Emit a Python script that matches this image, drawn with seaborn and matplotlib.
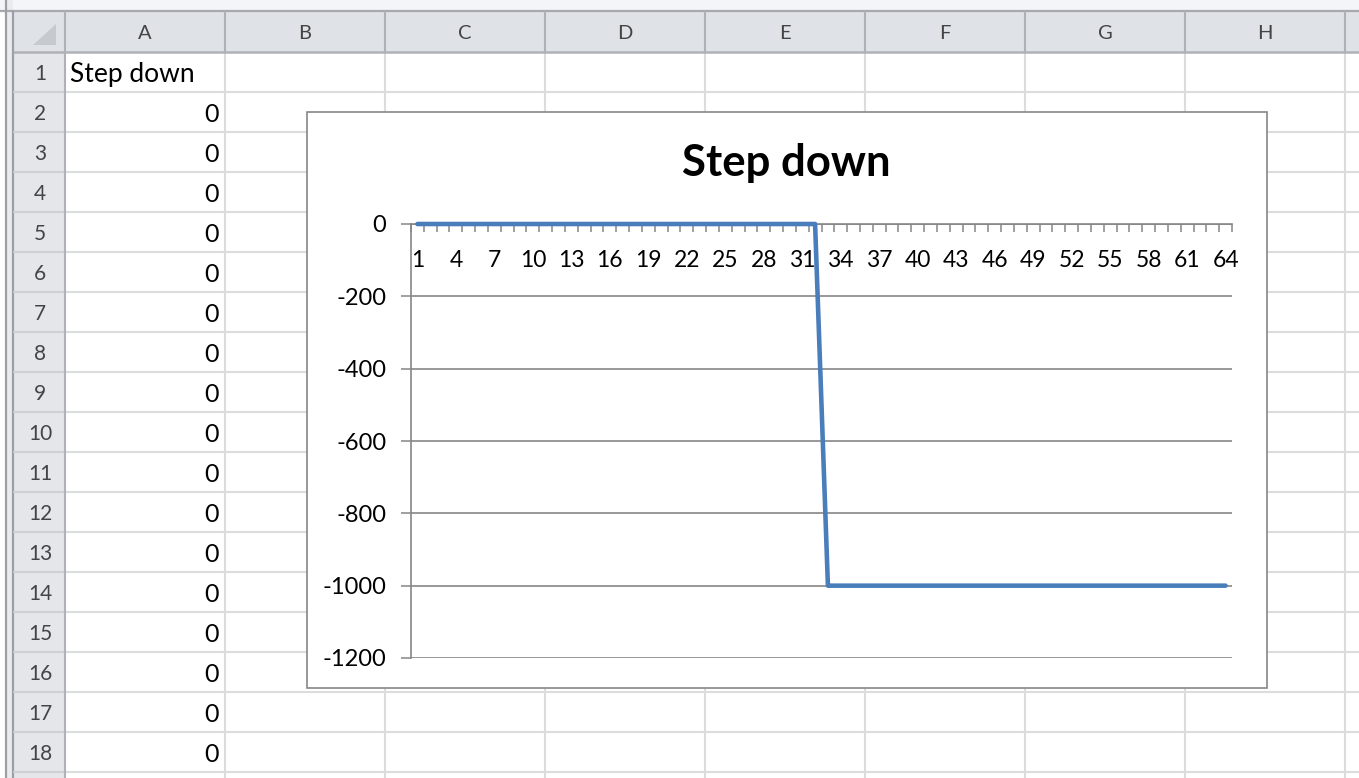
"""
Excel-style "Step down" line chart sitting on top of a worksheet grid
--------------------------------------------------------------------------------
Sheet is drawn in pixel coords on a full-figure axes, chart goes in its own axes.
"""
import numpy  as np
import pandas as pd
import matplotlib.pyplot  as plt
import matplotlib.patches as mpatches
import seaborn            as sns


# ================================================================================
# Data
# ================================================================================
series_name = "Step down"
points      = list(range(1, 65))                 # category axis 1..64
step_values = [
        0,     0,     0,     0,     0,     0,     0,     0,
        0,     0,     0,     0,     0,     0,     0,     0,
        0,     0,     0,     0,     0,     0,     0,     0,
        0,     0,     0,     0,     0,     0,     0,     0,
    -1000, -1000, -1000, -1000, -1000, -1000, -1000, -1000,
    -1000, -1000, -1000, -1000, -1000, -1000, -1000, -1000,
    -1000, -1000, -1000, -1000, -1000, -1000, -1000, -1000,
    -1000, -1000, -1000, -1000, -1000, -1000, -1000, -1000,
]
x_tick_points = points[::3]                      # 1, 4, 7, ..., 64
y_ticks       = [0, -200, -400, -600, -800, -1000, -1200]
col_letters   = ["A", "B", "C", "D", "E", "F", "G", "H"]
row_numbers   = list(range(1, 19))

df = pd.DataFrame({"point": points, "value": step_values})


# ================================================================================
# Style
# ================================================================================
sns.set_theme(style="white")
plt.rcParams["font.family"] = ["Lato", "DejaVu Sans"]

W, H     = 1359, 778
GRID     = "#DADCDD"
HDR_BG   = "#DFE3E8"
HDR_LINE = "#AEB2B8"
AXIS_CLR = "#868686"
BLUE     = "#4A7EBB"

fig = plt.figure(figsize=(W / 100, H / 100), dpi=100)


# ================================================================================
# Worksheet background (pixel coordinates, y going down)
# ================================================================================
sheet = fig.add_axes([0, 0, 1, 1])
sheet.set_xlim(0, W)
sheet.set_ylim(H, 0)
sheet.axis("off")

row_top  = 52
row_h    = 40
col_left = 65
col_w    = 160
col_edges = [col_left + col_w * i for i in range(len(col_letters) + 2)]

# window chrome at the top / left
sheet.add_patch(mpatches.Rectangle((0, 0), W, 11, color="#F3F5F8", lw=0))
sheet.plot([0, W], [11, 11], color="#A5A9AE", lw=1.6)
sheet.add_patch(mpatches.Rectangle((7, 0), 6, H, color="#E9EBEE", lw=0))
sheet.plot([6, 6], [0, H], color="#9C9FA3", lw=1.6)
sheet.plot([13, 13], [11, H], color="#9C9FA3", lw=1.6)

# column header strip and row header strip
sheet.add_patch(mpatches.Rectangle((14, 12), W, row_top - 12, color=HDR_BG, lw=0))
sheet.add_patch(mpatches.Rectangle((14, row_top), col_left - 14, H, color="#E4E6EA", lw=0))

# cell gridlines
for x in col_edges[1:]:
    sheet.plot([x, x], [row_top, H], color=GRID, lw=1.5)
for r in range(1, 20):
    y = row_top + row_h * r
    sheet.plot([col_left, W], [y, y], color=GRID, lw=1.5)
    sheet.plot([14, col_left], [y, y], color="#CDD0D4", lw=1.5)

# header separators
for x in col_edges:
    sheet.plot([x, x], [12, row_top], color=HDR_LINE, lw=1.5)
sheet.plot([14, W], [row_top, row_top], color=HDR_LINE, lw=1.8)
sheet.plot([col_left, col_left], [row_top, H], color=HDR_LINE, lw=1.5)

# select-all triangle
sheet.add_patch(mpatches.Polygon([(33, 45), (56, 45), (56, 24)], closed=True,
                                 color="#C6C9CD", lw=0))

# column letters and row numbers
for i, letter in enumerate(col_letters):
    sheet.text(col_left + col_w * (i + 0.5), 33, letter, ha="center", va="center",
               fontsize=14.5, color="#444444")
for r in row_numbers:
    sheet.text(40, row_top + row_h * (r - 0.5) + 2, str(r), ha="center", va="center",
               fontsize=15, color="#444444")

# column A contents: header then the first values of the series
sheet.text(70, row_top + row_h * 0.5 + 2, series_name, ha="left", va="center",
           fontsize=19, color="black")
for r, v in zip(row_numbers[1:], step_values):
    sheet.text(219, row_top + row_h * (r - 0.5) + 2, str(v), ha="right", va="center",
               fontsize=18, color="black")


# ================================================================================
# Chart object: box + title
# ================================================================================
sheet.add_patch(mpatches.Rectangle((307, 112), 960, 576, facecolor="white",
                                   edgecolor=AXIS_CLR, lw=1.2, zorder=5))
sheet.text(786, 163, series_name, ha="center", va="center", fontsize=31.5,
           fontweight="bold", color="black", zorder=6)


# ================================================================================
# Plot area
# ================================================================================
pl, pr, pt, pb = 411, 1232, 224, 658
ax = fig.add_axes([pl / W, 1 - pb / H, (pr - pl) / W, (pb - pt) / H])
ax.set_zorder(10)
ax.patch.set_alpha(0)

sns.lineplot(data=df, x="point", y="value", ax=ax, color=BLUE, linewidth=3.3)
for line in ax.lines:
    line.set_clip_on(False)
    line.set_solid_joinstyle("round")
    line.set_zorder(5)

ax.set_xlim(0.5, 64.5)
ax.set_ylim(-1200, 0)
ax.set_xlabel("")
ax.set_ylabel("")

# horizontal axis crosses at 0, i.e. along the top of the plot area
for side in ["top", "right"]:
    ax.spines[side].set_visible(False)
ax.spines["bottom"].set_position(("data", 0))
ax.spines["bottom"].set_color(AXIS_CLR)
ax.spines["left"].set_color(AXIS_CLR)
ax.spines["bottom"].set_linewidth(1.2)
ax.spines["left"].set_linewidth(1.2)

# category labels every 3rd point, tick marks between categories
ax.set_xticks(x_tick_points)
ax.set_xticklabels([str(p) for p in x_tick_points])
ax.set_xticks(np.arange(0.5, len(points) + 1, 1), minor=True)
ax.tick_params(axis="x", which="major", bottom=True, length=0, pad=19,
               labelsize=16.5, labelcolor="black")
ax.tick_params(axis="x", which="minor", bottom=True, length=6, width=1.1,
               color=AXIS_CLR, direction="out")

ax.set_yticks(y_ticks)
ax.set_yticklabels([str(v) for v in y_ticks])
ax.tick_params(axis="y", which="major", left=True, length=7.2, width=1.1,
               color=AXIS_CLR, direction="out", pad=10.5,
               labelsize=17, labelcolor="black")

ax.yaxis.grid(True, color=AXIS_CLR, lw=1.2)
ax.xaxis.grid(False)
ax.set_axisbelow(True)

fig.savefig("out.png", dpi=100)
